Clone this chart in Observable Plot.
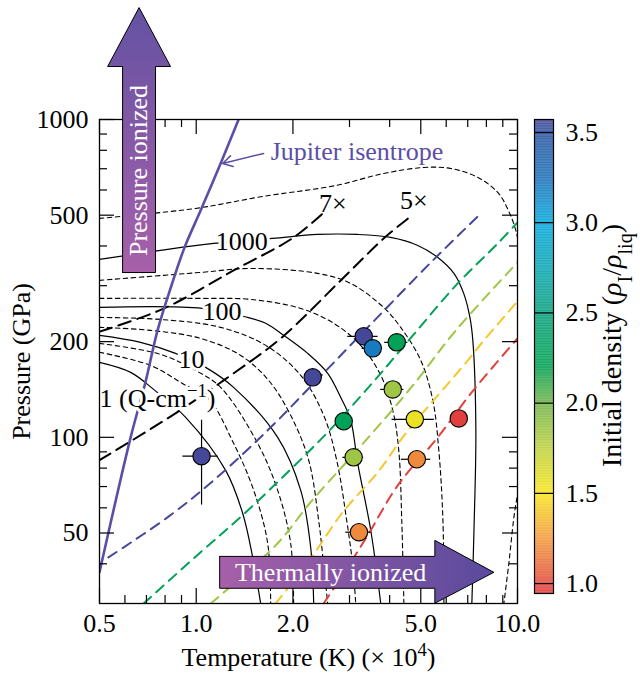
<!DOCTYPE html>
<html><head><meta charset="utf-8">
<script src="https://cdn.jsdelivr.net/npm/d3@7"></script>
<script src="https://cdn.jsdelivr.net/npm/@observablehq/plot@0.6"></script>
<style>
body{margin:0;background:#fff;}
#wrap{position:relative;width:640px;height:685px;overflow:hidden;}
#wrap svg{position:absolute;top:0;}
#wrap text{font-family:"Liberation Serif","Times New Roman",Times,serif;}
</style></head><body><div id="wrap"></div>
<script>
// ---------- axis ticks ----------
const majorX = [0.5, 1, 2, 5, 10];
const minorX = [0.6, 0.7, 0.8, 0.9, 3, 4, 6, 7, 8, 9];
const majorY = [50, 100, 200, 500, 1000];
const minorY = [40, 60, 70, 80, 90, 300, 400, 600, 700, 800, 900];
const cbTicks = [1.0, 1.5, 2.0, 2.5, 3.0, 3.5];

// ---------- colour scale (initial density) ----------
const densityStops  = [0.945, 1.0, 1.25, 1.5, 1.75, 2.0, 2.2, 2.5, 2.75, 3.0, 3.25, 3.5, 3.572];
const densityColors = ["#e03a3c", "#e24a3d", "#f29a3c", "#f7e51e", "#bcd13e", "#72b24c", "#00a250", "#08a07e", "#0aa6b2", "#05a8dc", "#1d70b8", "#2a55a0", "#4a4498"];

// ---------- data points ----------
const pointT       = [1.039, 2.305, 3.322, 3.544, 4.209, 4.09, 2.878, 4.79, 6.565, 3.09, 4.86, 3.21];
const pointP       = [87.2, 154.4, 207.8, 190.5, 199, 141.5, 112.3, 113.9, 114.7, 86.5, 85.3, 50.3];
const pointDensity = [3.56, 3.56, 3.56, 3.2, 2.25, 1.85, 2.25, 1.55, 0.97, 1.85, 1.2, 1.2];
const pointTErr    = [0.13, 0, 0.36, 0.26, 0.35, 0.34, 0, 0.72, 0, 0.23, 0.51, 0.29];
const pointPErr    = [26, 0, 0, 0, 0, 0, 0, 0, 0, 0, 0, 0];

// ---------- Jupiter isentrope ----------
const jupiterT = [0.5, 0.625, 0.695, 0.758, 0.838, 0.920, 1.032, 1.191, 1.355];
const jupiterP = [37.6, 100, 149, 217, 301, 396, 517, 727, 1000];

// ---------- compression lines ----------
const comp7T = [0.5, 0.791, 1.307, 2.01, 2.476];
const comp7P = [215, 254, 335, 425.5, 506];
const comp5T = [0.5, 0.881, 1.307, 1.845, 2.857, 3.83, 4.56];
const comp5P = [84.7, 120.7, 159, 206, 316, 422, 488];

// ---------- Hugoniots ----------
const hugDensity = [3.56, 2.25, 1.85, 1.4, 0.97];
const hugPurpleT = [0.533, 0.814, 1.133, 1.669, 2.305, 3.419, 5.45, 7.58];
const hugPurpleP = [41.9, 56.0, 73.2, 105.2, 146.8, 221.8, 360, 499];
const hugGreenT = [0.686, 1.032, 1.395, 1.926, 2.566, 3.57, 4.756, 6.43, 8.68, 10];
const hugGreenP = [30, 43.5, 56.9, 77.6, 103.7, 150, 210.8, 300.6, 407.4, 474.5];
const hugLightT = [1.109, 1.261, 1.793, 2.271, 3.026, 3.945, 4.756, 6.43, 10];
const hugLightP = [30, 33.5, 46.4, 62.5, 86.5, 117.3, 146.8, 217, 355];
const hugYellowT = [1.767, 2.271, 2.857, 3.673, 4.49, 5.65, 6.80, 7.86, 10];
const hugYellowP = [30, 41.6, 58.1, 77.6, 102.9, 135.5, 168.4, 201.8, 267.7];
const hugRedT = [2.493, 2.919, 3.419, 4.24, 5.65, 7.16, 10];
const hugRedP = [30, 38.2, 49.2, 70.6, 100, 137.5, 204.8];

// ---------- conductivity contours (solid) ----------
const s1000T = [0.5, 0.774, 1.133, 1.729, 2.388, 3.182, 4.03, 4.894, 5.65, 6.34, 6.80, 7.11, 7.26, 7.42, 7.32, 7.21];
const s1000P = [362.8, 387.3, 407.4, 422.4, 434.8, 434.8, 425.5, 401.5, 368, 327.9, 283.7, 238.4, 201.8, 105.2, 51.0, 30];
const s100T = [0.5, 1.046, 1.445, 1.645, 1.872, 2.223, 2.566, 2.816, 3.026, 3.182, 3.493, 3.753];
const s100P = [256.3, 254.4, 238.4, 228.4, 209.3, 183.7, 159, 133.6, 113.1, 82.8, 51.0, 30];
const s10T = [0.5, 0.671, 0.862, 1.07, 1.307, 1.793, 2.115, 2.271, 2.321];
const s10P = [209.3, 199, 183.7, 166, 143.6, 100, 68.1, 45.1, 30];
const s1T = [0.5, 0.625, 0.737, 0.927, 1.235, 1.395, 1.499, 1.587];
const s1P = [172.1, 160.1, 141.5, 115.6, 78.7, 57.7, 41.9, 30];

// ---------- conductivity contours (dashed, intermediate) ----------
const dAT = [0.5, 0.995, 1.61, 2.72, 3.83, 5.11, 6.20, 7.53, 8.68, 9.40, 10, 10.47, 10.62, 10.24, 9.745, 9.40, 9.07];
const dAP = [488.4, 525, 572.6, 620, 676.4, 706.4, 701.4, 657, 589.5, 513.6, 425.5, 269.7, 151.1, 78.7, 56.0, 40.2, 30];
const dBT = [0.5, 1.032, 1.477, 2.388, 3.026, 3.83, 4.33, 5.0, 5.45, 5.69, 5.86, 5.90];
const dBP = [311.7, 330.3, 339.9, 327.9, 305, 256.3, 221.8, 174.6, 130.7, 91.0, 54.8, 30];
const dCT = [0.5, 1.032, 1.477, 2.115, 2.679, 3.25, 3.753, 4.09, 4.27, 4.363, 4.43];
const dCP = [273.6, 273.6, 271.6, 254.4, 228.4, 194.7, 156.7, 121.6, 91.0, 54.8, 30];
const dDT = [0.5, 0.774, 1.191, 1.645, 2.115, 2.493, 2.737, 2.94, 3.07, 3.137];
const dDP = [238.4, 234.9, 221.8, 194.7, 156.7, 117.3, 84.7, 54.8, 39.6, 30];
const dET = [0.5, 0.721, 1.032, 1.375, 1.68, 1.968, 2.239, 2.405, 2.493, 2.566];
const dEP = [221.8, 217, 204.8, 181, 151.1, 117.3, 84.7, 54.8, 39.6, 30];
const dFT = [0.5, 0.774, 0.995, 1.191, 1.553, 1.793, 1.968, 2.01];
const dFP = [197.5, 182.4, 162.4, 143.6, 95.8, 68.1, 46.4, 30];
const dGT = [0.5, 0.721, 0.927, 1.085, 1.307, 1.51, 1.669, 1.705];
const dGP = [185.1, 168.4, 145.7, 133.6, 95.8, 68.1, 46.4, 30];

// ---------- annotation shapes (data coordinates) ----------
const presArrowT = [0.590, 0.590, 0.530, 0.664, 0.832, 0.747, 0.747, 0.590];
const presArrowP = [330, 1468, 1468, 2250, 1468, 1468, 330, 330];
const thermArrowT = [1.183, 5.53, 5.53, 8.44, 5.53, 5.53, 1.183, 1.183];
const thermArrowP = [42.2, 42.2, 47.4, 37.6, 30.06, 33.5, 33.5, 42.2];

// ---------- labels ----------
const contourLabels = [
  {T: 1.385, P: 413, text: "1000", anchor: "middle"},
  {T: 1.204, P: 248, text: "100", anchor: "middle"},
  {T: 0.967, P: 176, text: "10", anchor: "middle"},
  {T: 0.758, P: 132.6, text: "1 (Q-cm^{−1})", anchor: "start"}
];
const compLabels = [{T: 2.66, P: 544, text: "7×"}, {T: 4.756, P: 556, text: "5×"}];

// ---------- build tables ----------
const series = (name, T, P, extra = {}) => T.map((t, i) => ({name, T: t, P: P[i], ...extra}));
const points = pointT.map((t, i) => ({T: t, P: pointP[i], density: pointDensity[i], dT: pointTErr[i], dP: pointPErr[i]}));
const solidContours = [...series("s1000", s1000T, s1000P), ...series("s100", s100T, s100P), ...series("s10", s10T, s10P), ...series("s1", s1T, s1P)];
const dashedContours = [...series("A", dAT, dAP), ...series("B", dBT, dBP), ...series("C", dCT, dCP), ...series("D", dDT, dDP), ...series("E", dET, dEP), ...series("F", dFT, dFP), ...series("G", dGT, dGP)];
const compress = [...series("7x", comp7T, comp7P), ...series("5x", comp5T, comp5P)];
const hugoniots = [
  ...series("purple", hugPurpleT, hugPurpleP, {density: hugDensity[0]}),
  ...series("green", hugGreenT, hugGreenP, {density: hugDensity[1]}),
  ...series("light", hugLightT, hugLightP, {density: hugDensity[2]}),
  ...series("yellow", hugYellowT, hugYellowP, {density: hugDensity[3]}),
  ...series("red", hugRedT, hugRedP, {density: hugDensity[4]})
];
const jupiter = series("jup", jupiterT, jupiterP);
const presArrow = series("pa", presArrowT, presArrowP);
const thermArrow = series("ta", thermArrowT, thermArrowP);

const W = 640, H = 685, mL = 99, mR = 123, mT = 119, mB = 82;
const fw = W - mL - mR, fh = H - mT - mB;
const FONT = '"Liberation Serif", "Times New Roman", Times, serif';
const FS = 26;
const colorOpts = {type: "linear", domain: densityStops, range: densityColors, clamp: true};
const purple = "#5b4ea6";
const txt = (data, opts) => Plot.text(data, {fontFamily: FONT, fontSize: FS, fill: "black", ...opts});

const main = Plot.plot({
  width: W, height: H, marginLeft: mL, marginRight: mR, marginTop: mT, marginBottom: mB,
  style: `font-family: ${FONT}; font-size: ${FS}px; background: white; overflow: visible;`,
  x: {type: "log", domain: [0.5, 10], axis: null},
  y: {type: "log", domain: [30, 1000], axis: null},
  color: colorOpts,
  marks: [
    Plot.line(dashedContours, {x: "T", y: "P", z: "name", curve: "catmull-rom", stroke: "black", strokeWidth: 1.1, strokeDasharray: "4.5,3.5", clip: true}),
    Plot.line(solidContours, {x: "T", y: "P", z: "name", curve: "catmull-rom", stroke: "black", strokeWidth: 1.2, clip: true}),
    Plot.line(compress, {x: "T", y: "P", z: "name", curve: "catmull-rom", stroke: "black", strokeWidth: 2, strokeDasharray: "13,7", clip: true}),
    Plot.line(hugoniots, {x: "T", y: "P", z: "name", curve: "catmull-rom", stroke: "density", strokeWidth: 2, strokeDasharray: "10,7", clip: true}),
    Plot.line(jupiter, {x: "T", y: "P", curve: "catmull-rom", stroke: purple, strokeWidth: 2.6, clip: true}),
    txt(contourLabels, {x: "T", y: "P", text: "text", textAnchor: "anchor", stroke: "white", strokeWidth: 6}),
    txt(compLabels, {x: "T", y: "P", text: "text"}),
    Plot.ruleY(points.filter(d => d.dT > 0), {y: "P", x1: d => d.T - d.dT, x2: d => d.T + d.dT, stroke: "black", strokeWidth: 1.2}),
    Plot.ruleX(points.filter(d => d.dP > 0), {x: "T", y1: d => d.P - d.dP, y2: d => d.P + d.dP, stroke: "black", strokeWidth: 1.2}),
    Plot.dot(points, {x: "T", y: "P", r: 8.7, fill: "density", stroke: "black", strokeWidth: 1.1}),
    // ticks (inward, all four sides)
    Plot.tickX(majorX, {x: d => d, insetTop: fh - 15, stroke: "black", strokeWidth: 1.2}),
    Plot.tickX(minorX, {x: d => d, insetTop: fh - 8, stroke: "black", strokeWidth: 1.2}),
    Plot.tickX(majorX, {x: d => d, insetBottom: fh - 15, stroke: "black", strokeWidth: 1.2}),
    Plot.tickX(minorX, {x: d => d, insetBottom: fh - 8, stroke: "black", strokeWidth: 1.2}),
    Plot.tickY(majorY, {y: d => d, insetRight: fw - 15, stroke: "black", strokeWidth: 1.2}),
    Plot.tickY(minorY, {y: d => d, insetRight: fw - 8, stroke: "black", strokeWidth: 1.2}),
    Plot.tickY(majorY, {y: d => d, insetLeft: fw - 15, stroke: "black", strokeWidth: 1.2}),
    Plot.tickY(minorY, {y: d => d, insetLeft: fw - 8, stroke: "black", strokeWidth: 1.2}),
    Plot.frame({stroke: "black", strokeWidth: 1.3}),
    // tick labels
    txt(majorX, {x: d => d, frameAnchor: "bottom", dy: 28, text: d => d.toFixed(1)}),
    txt(majorY, {y: d => d, frameAnchor: "left", dx: -11, textAnchor: "end", text: d => String(d)}),
    // axis titles
    txt(["Temperature (K) (× 10^{4})"], {frameAnchor: "bottom", dy: 62, text: d => d}),
    txt(["Pressure (GPa)"], {frameAnchor: "left", dx: -78, rotate: -90, textAnchor: "middle", text: d => d}),
    // Jupiter label and arrow
    Plot.arrow([{x1: 1.621, y1: 782, x2: 1.208, y2: 727}], {x1: "x1", y1: "y1", x2: "x2", y2: "y2", stroke: purple, strokeWidth: 1.5, headLength: 11}),
    txt([{T: 1.705, P: 793}], {x: "T", y: "P", text: () => "Jupiter isentrope", textAnchor: "start", fill: purple}),
    // ionization arrows
    Plot.line(presArrow, {x: "T", y: "P", fill: "url(#gradP)", stroke: "black", strokeWidth: 1}),
    Plot.line(thermArrow, {x: "T", y: "P", fill: "url(#gradT)", stroke: "black", strokeWidth: 1}),
    txt([{T: 0.664, P: 691}], {x: "T", y: "P", text: () => "Pressure ionized", rotate: -90, fill: "white"}),
    txt([{T: 2.62, P: 37.6}], {x: "T", y: "P", text: () => "Thermally ionized", fill: "white"})
  ]
});

const colorbar = Plot.plot({
  width: 116, height: H, marginLeft: 10, marginRight: 87, marginTop: 119, marginBottom: 92,
  style: `font-family: ${FONT}; font-size: ${FS}px; background: transparent; overflow: visible;`,
  x: {axis: null},
  y: {domain: [0.945, 3.572], axis: null},
  color: colorOpts,
  marks: [
    Plot.rect(d3.range(0.945, 3.572, 0.004), {y1: d => d, y2: d => Math.min(d + 0.0046, 3.572), fill: d => d + 0.002}),
    Plot.ruleY(cbTicks, {y: d => d, stroke: "black", strokeWidth: 1.2}),
    Plot.frame({stroke: "black", strokeWidth: 1.2}),
    txt(cbTicks, {y: d => d, frameAnchor: "right", dx: 12, textAnchor: "start", text: d => d.toFixed(1)}),
    txt(["Initial density (*{ρ}_{I}/*{ρ}_{liq})"], {frameAnchor: "right", dx: 59, dy: -11, rotate: -90, textAnchor: "middle", fontSize: 28, text: d => d})
  ]
});

function getSvg(node) { return node.tagName.toLowerCase() === "svg" ? node : node.querySelector("svg"); }
const NS = "http://www.w3.org/2000/svg";
function richify(root) {
  root.querySelectorAll("text").forEach(t => {
    const s = t.textContent;
    if (!/[\^_*]\{/.test(s)) return;
    while (t.firstChild) t.removeChild(t.firstChild);
    const re = /([\^_*])\{([^}]*)\}/g;
    let last = 0, m;
    const add = (str, kind) => {
      const ts = document.createElementNS(NS, "tspan");
      ts.textContent = str;
      if (kind === "*") ts.setAttribute("font-style", "italic");
      else if (kind) { ts.setAttribute("baseline-shift", kind === "^" ? "super" : "sub"); ts.setAttribute("font-size", "72%"); }
      t.appendChild(ts);
    };
    while ((m = re.exec(s))) { if (m.index > last) add(s.slice(last, m.index)); add(m[2], m[1]); last = re.lastIndex; }
    if (last < s.length) add(s.slice(last));
  });
}
function addGradient(svg, id, x2, y1, y2, c0, c1) {
  let defs = svg.querySelector("defs");
  if (!defs) { defs = document.createElementNS(NS, "defs"); svg.insertBefore(defs, svg.firstChild); }
  const g = document.createElementNS(NS, "linearGradient");
  g.setAttribute("id", id);
  g.setAttribute("x1", "0"); g.setAttribute("y1", y1); g.setAttribute("x2", x2); g.setAttribute("y2", y2);
  [[0, c0], [1, c1]].forEach(([o, c]) => {
    const s = document.createElementNS(NS, "stop");
    s.setAttribute("offset", o); s.setAttribute("stop-color", c);
    g.appendChild(s);
  });
  defs.appendChild(g);
}
const mainSvg = getSvg(main);
addGradient(mainSvg, "gradP", "0", "1", "0", "#a760a9", "#6452a3");
addGradient(mainSvg, "gradT", "1", "0", "0", "#a760a9", "#594a9d");
richify(mainSvg);
const cbSvg = getSvg(colorbar);
richify(cbSvg);
[mainSvg, cbSvg].forEach(s => { s.setAttribute("font-family", FONT); s.setAttribute("font-size", FS); });
const wrap = document.getElementById("wrap");
main.style.left = "0px";
colorbar.style.left = "524px";
wrap.appendChild(main);
wrap.appendChild(colorbar);
</script></body></html>
